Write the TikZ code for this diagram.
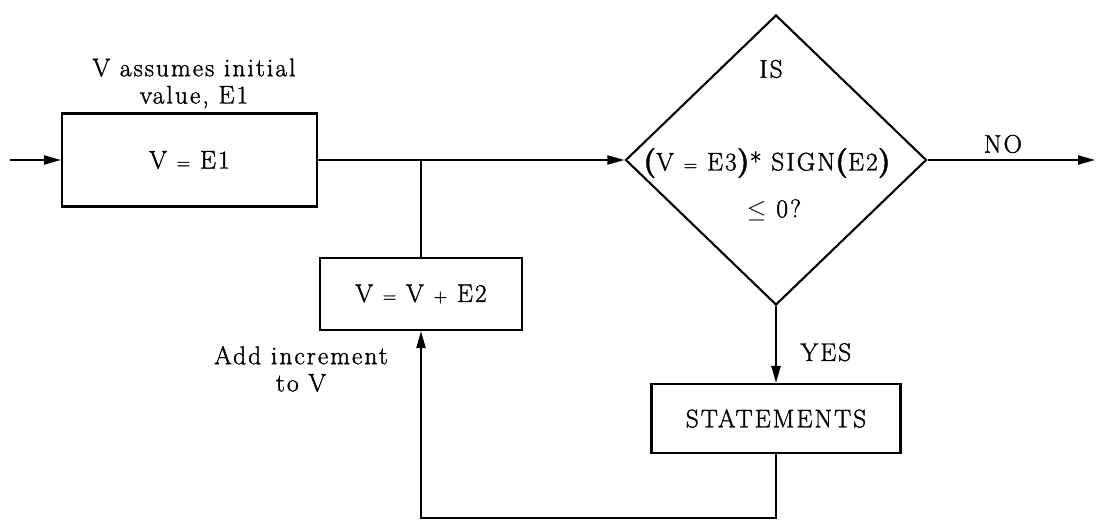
\documentclass[tikz,border=0pt]{standalone}
\usepackage{amsmath,amssymb}
\usepackage{fontspec}
\setmainfont{Latin Modern Roman}[LetterSpace=8.0, FakeBold=1.4]
\usepackage{tikz}
\usetikzlibrary{
  arrows.meta,
  shapes.geometric,
}
\newcommand{\bigparen}[1]{{\fontsize{17}{17}\selectfont\bfseries #1}}
\newcommand{\smallop}[1]{{\fontsize{10}{10}\selectfont #1}}

\begin{document}
\begin{tikzpicture}[
  font=\fontsize{14.5}{15.5}\selectfont,
  every node/.style={align=center},
  line width=1.2pt,
  block/.style={draw=black, rectangle, inner sep=0pt},
  decision/.style={draw=black, diamond, inner sep=0pt,
                   minimum width=6.02cm, minimum height=5.8cm},
  arrow/.style={-{Triangle[length=3.4mm, width=1.8mm]}},
]

\useasboundingbox (0,0) rectangle (21.92,-10.42);

% boxes
\node[block, minimum width=5.1cm, minimum height=1.86cm] (E1) at (3.79,-3.2)
  {V \smallop{=} E1};
\node (initlbl) at (3.88,-1.67) {V assumes initial\\value, E1};

\node[block, minimum width=4.04cm, minimum height=1.44cm] (inc) at (8.42,-5.88)
  {V \smallop{=} V \smallop{+} E2};
\node (addlbl) at (6.02,-7.38) {Add increment\\to V};

\node[decision] (dec) at (15.52,-3.2) {};
\node (isq) at (15.42,-1.38) {IS};
\node (cond) at (15.34,-3.26)
  {\bigparen{(}V \smallop{=} E3\bigparen{)}* SIGN\bigparen{(}E2\bigparen{)}};
\node (leq) at (15.48,-4.2) {$\leq$ 0?};

\node[block, minimum width=4.98cm, minimum height=1.38cm] (stmt) at (15.52,-8.37) {STATEMENTS};

% connectors
\coordinate (in) at (0.2,-3.2);
\coordinate (out) at (21.9,-3.2);
\coordinate (jn) at (8.42,-3.2);
\coordinate (lp) at (8.42,-10.36);

\draw[arrow] (in) -- (E1.west);
\draw[arrow] (E1.east) -- (dec.west);
\draw (jn) -- (inc.north);
\draw[arrow] (dec.east) -- node[pos=0.45, above=0pt] (no) {NO} (out);
\draw[arrow] (dec.south) -- node[pos=0.6, right=10pt] (yes) {YES} (stmt.north);
\draw[arrow] (stmt.south) |- (lp) -- (inc.south);

\end{tikzpicture}
\end{document}
